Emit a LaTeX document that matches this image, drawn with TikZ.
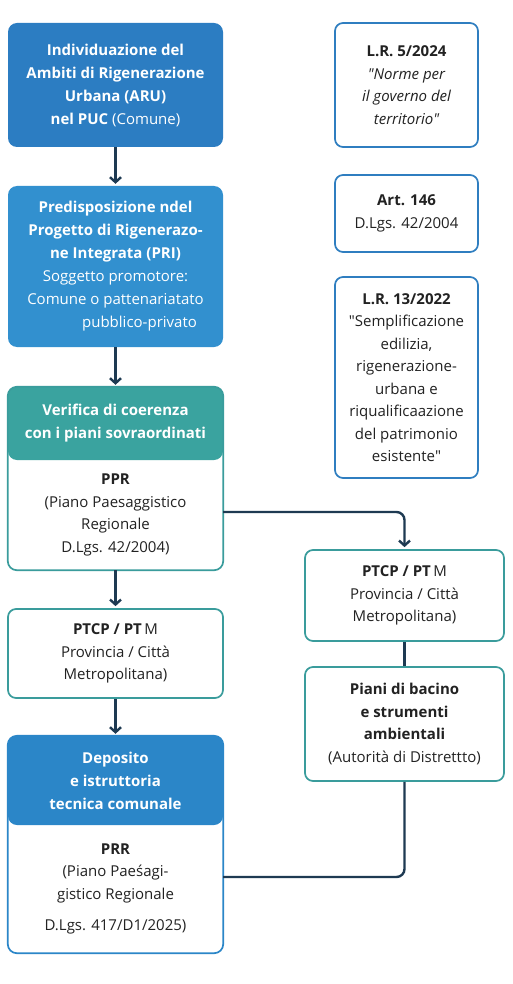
\documentclass[tikz,border=0pt]{standalone}
\usepackage{fontspec}
\setmainfont{Open Sans}[Ligatures=TeXOff]
\usetikzlibrary{arrows.meta,positioning,backgrounds}

\definecolor{aruBlue}{HTML}{2C7DC2}
\definecolor{priBlue}{HTML}{3290CF}
\definecolor{depBlue}{HTML}{2B86C8}
\definecolor{verTeal}{HTML}{3AA39F}
\definecolor{tealLine}{HTML}{3A9C9C}
\definecolor{normLine}{HTML}{2F7EC0}
\definecolor{flowNavy}{HTML}{1E3A52}
\definecolor{inkText}{HTML}{222222}

\tikzset{
  txt/.style={font=\fontsize{15}{22.5}\selectfont},
  stepbox/.style={rectangle, rounded corners=9pt, fill=#1, text=white,
    align=center, inner sep=4pt, minimum width=215pt,
    font=\fontsize{15}{23}\selectfont\bfseries},
  bodybox/.style={rectangle, align=center, inner sep=4pt,
    minimum width=215pt, text=inkText, txt},
  normbox/.style={rectangle, rounded corners=8pt, draw=#1, line width=1.7pt,
    fill=white, text=inkText, align=center, inner sep=4pt, txt},
  flow/.style={draw=flowNavy, line width=2.4pt,
    -{Straight Barb[length=5pt,width=11pt]}},
  link/.style={draw=flowNavy, line width=2.4pt}
}

\begin{document}
\begin{tikzpicture}[x=1pt,y=-1pt]
\fill[white] (0,0) rectangle (512,984);
\useasboundingbox (0,0) rectangle (512,984);

% left column
\node[stepbox=aruBlue, minimum height=124pt] (aru) at (115.5,85)
  {Individuazione del\\Ambiti di Rigenerazione\\Urbana (ARU)\\
   nel PUC {\mdseries(Comune)}};
\node[stepbox=priBlue, minimum height=161pt] (pri) at (115.5,266.5)
  {Predisposizione ndel\\Progetto di Rigenerazo-\\ne Integrata (PRI)\\
   {\mdseries Soggetto promotore:}\\
   {\mdseries Comune o pattenariatato}\\
   {\mdseries\hspace*{48pt}pubblico-privato}};

\node[stepbox=verTeal, minimum height=73pt] (verif) at (115.5,423.5)
  {Verifica di coerenza\\con i piani sovraordinati};
\node[bodybox, minimum height=110pt] (ppr) at (115.5,515)
  {\textbf{PPR}\\(Piano Paesaggistico\\Regionale\\D.Lgs. 42/2004)};

\node[normbox=tealLine, minimum width=215pt, minimum height=89pt] (ptcpl)
  at (115.5,653.5)
  {\textbf{PTCP / PT}\,M\\Provincia / Città\\Metropolitana)};

\node[stepbox=depBlue, minimum height=89pt] (depo) at (115.5,780.5)
  {Deposito\\e istruttoria\\tecnica comunale};
\node[bodybox, minimum height=128pt] (prr) at (115.5,889)
  {\textbf{PRR}\\(Piano Paeśagi-\\gistico Regionale\\[9pt]D.Lgs. 417/D1/2025)};

% square off the lower corners of the headers
\begin{scope}[on background layer]
  \fill[verTeal] (verif.west) rectangle (verif.south east);
  \fill[depBlue] (depo.west) rectangle (depo.south east);
\end{scope}
\draw[tealLine, line width=1.7pt, rounded corners=9pt]
  (verif.north west) rectangle (ppr.south east);
\draw[depBlue, line width=1.7pt, rounded corners=9pt]
  (depo.north west) rectangle (prr.south east);

% right column
\node[normbox=normLine, minimum width=143pt, minimum height=124pt] (lr5)
  at (406.5,85)
  {\textbf{L.R. 5/2024}\\\itshape "Norme per\\\itshape il governo del\\
   \itshape territorio"};
\node[normbox=normLine, minimum width=143pt, minimum height=77pt] (art)
  at (406.5,213.5) {\textbf{Art. 146}\\D.Lgs. 42/2004};
\node[normbox=normLine, minimum width=143pt, minimum height=201pt] (lr13)
  at (406.5,377.5)
  {\textbf{L.R. 13/2022}\\"Semplificazione\\edilizia,\\rigenerazione-\\
   urbana e\\riqualificaazione\\del patrimonio\\esistente"};

\node[normbox=tealLine, minimum width=199pt, minimum height=91pt] (ptcpr)
  at (404.5,595.5)
  {\textbf{PTCP / PT}\,M\\Provincia / Città\\Metropolitana)};
\node[normbox=tealLine, minimum width=199pt, minimum height=114pt] (piani)
  at (404.5,724)
  {\textbf{Piani di bacino}\\\textbf{e strumenti}\\\textbf{ambientali}\\
   (Autorità di Distrettto)};

% connectors
\draw[flow, shorten >=2pt] (aru) -- (pri);
\draw[flow, shorten >=2pt] (pri) -- (verif);
\draw[flow, shorten >=2pt] (ppr) -- (ptcpl);
\draw[flow, shorten >=2pt] (ptcpl) -- (depo);
\draw[flow, rounded corners=8pt, shorten >=2pt]
  ([yshift=3pt]ppr.east) -| (ptcpr.north);
\draw[link] (ptcpr) -- (piani);
\draw[link, rounded corners=8pt]
  (piani.south) |- ([yshift=12pt]prr.east);
\end{tikzpicture}
\end{document}
